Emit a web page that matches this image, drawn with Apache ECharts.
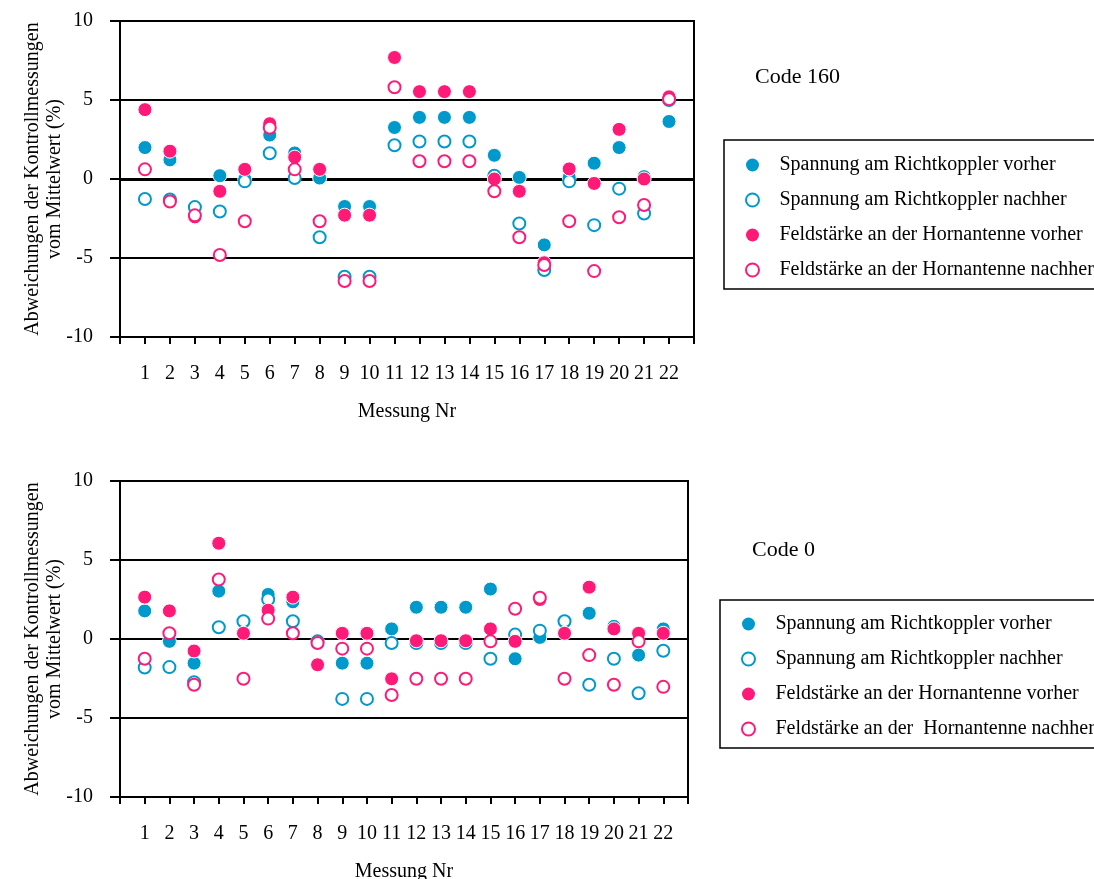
<!DOCTYPE html>
<html><head><meta charset="utf-8">
<script src="https://cdn.jsdelivr.net/npm/echarts@6/dist/echarts.min.js"></script>
<style>html,body{margin:0;padding:0;background:#fff;overflow:hidden}#c{width:1094px;height:879px}</style>
</head><body><div id="c"></div>
<script>
// ---- data ----
const measurementNr = [1,2,3,4,5,6,7,8,9,10,11,12,13,14,15,16,17,18,19,20,21,22];
const xTickLabels = ['1','2','3','4','5','6','7','8','9','10','11','12','13','14','15','16','17','18','19','20','21','22'];

// Code 160 (top chart)
const c160_spannungVorher  = [1.99, 1.21, -1.80, 0.21, 0.00, 2.78, 1.65, 0.06, -1.74, -1.74, 3.26, 3.90, 3.90, 3.90, 1.50, 0.10, -4.17, 0.10, 1.00, 1.99, 0.15, 3.64];
const c160_spannungNachher = [-1.27, -1.30, -1.78, -2.06, -0.15, 1.63, 0.06, -3.69, -6.19, -6.19, 2.14, 2.37, 2.37, 2.37, 0.21, -2.82, -5.76, -0.15, -2.92, -0.61, -2.18, 5.00];
const c160_feldVorher      = [4.39, 1.76, -2.40, -0.78, 0.61, 3.50, 1.38, 0.61, -2.29, -2.29, 7.69, 5.53, 5.53, 5.53, 0.00, -0.78, -5.30, 0.64, -0.28, 3.14, 0.00, 5.20];
const c160_feldNachher     = [0.61, -1.42, -2.30, -4.81, -2.67, 3.24, 0.61, -2.67, -6.46, -6.46, 5.81, 1.12, 1.12, 1.12, -0.78, -3.69, -5.44, -2.67, -5.83, -2.42, -1.65, 5.05];

// Code 0 (bottom chart)
const c0_spannungVorher  = [1.78, -0.15, -1.53, 3.03, 1.10, 2.82, 2.35, -0.20, -1.53, -1.53, 0.64, 2.01, 2.01, 2.01, 3.16, -1.25, 0.10, 1.10, 1.63, 0.80, -1.02, 0.64];
const c0_spannungNachher = [-1.80, -1.78, -2.73, 0.74, 1.12, 2.50, 1.12, -0.15, -3.79, -3.79, -0.25, -0.25, -0.25, -0.25, -1.25, 0.28, 0.53, 1.12, -2.90, -1.25, -3.43, -0.74];
const c0_feldVorher      = [2.65, 1.78, -0.76, 6.06, 0.36, 1.82, 2.65, -1.63, 0.36, 0.36, -2.52, -0.11, -0.11, -0.11, 0.64, -0.15, 2.50, 0.36, 3.28, 0.64, 0.36, 0.36];
const c0_feldNachher     = [-1.25, 0.36, -2.90, 3.77, -2.52, 1.29, 0.36, -0.25, -0.61, -0.61, -3.54, -2.52, -2.52, -2.52, -0.15, 1.91, 2.61, -2.52, -1.02, -2.90, -0.15, -3.03];

const namesTop = ['Spannung am Richtkoppler vorher','Spannung am Richtkoppler nachher','Feldstärke an der Hornantenne vorher','Feldstärke an der Hornantenne nachher'];
const namesBottom = ['Spannung am Richtkoppler vorher','Spannung am Richtkoppler nachher','Feldstärke an der Hornantenne vorher','Feldstärke an der  Hornantenne nachher'];
const chartTitles = ['Code 160','Code 0'];
const xAxisTitle = 'Messung Nr';
const yAxisTitle = 'Abweichungen der Kontrollmessungen\nvom Mittelwert (%)';

// ---- chart ----
const BLUE = '#0099cc', PINK = '#ff1a78', FONT = 'Liberation Serif';
const chart = echarts.init(document.getElementById('c'), null, {renderer:'canvas'});

const filledStyle = c => ({color:c, borderColor:'#fff', borderWidth:1, opacity:1});
const openStyle = c => ({color:'#fff', borderColor:c, borderWidth:2, opacity:1});
const seriesColors = [BLUE, BLUE, PINK, PINK];
const seriesFilled = [true, false, true, false];

function pts(vals){ return vals.map((v,i)=>[measurementNr[i], v]); }
function mk(name, vals, gi, k, extra){
  const filled = seriesFilled[k], color = seriesColors[k];
  const s = {
    type:'scatter', name, xAxisIndex:gi, yAxisIndex:gi, data: pts(vals), symbol:'circle',
    symbolSize: filled ? 14 : 12,
    itemStyle: filled ? filledStyle(color) : openStyle(color),
    emphasis:{disabled:true}, silent:true, animation:false
  };
  return Object.assign(s, extra||{});
}
const zeroLine = {markLine:{silent:true, z:1, symbol:['none','none'], label:{show:false},
  lineStyle:{color:'#000', width:3, type:'solid'}, data:[{yAxis:0}], animation:false}};

function xAx(gi){
  return {gridIndex:gi, type:'value', min:0, max:23, interval:1,
    axisLine:{show:true, onZero:false, lineStyle:{color:'#000', width:2}},
    axisTick:{show:true, inside:false, length:7, lineStyle:{color:'#000', width:2}},
    axisLabel:{margin:27, color:'#000', fontFamily:FONT, fontSize:20,
      formatter:v => (v>=1 && v<=xTickLabels.length && Number.isInteger(v)) ? xTickLabels[v-1] : ''},
    splitLine:{show:false},
    name:xAxisTitle, nameLocation:'middle', nameGap:65,
    nameTextStyle:{color:'#000', fontFamily:FONT, fontSize:20}};
}
function yAx(gi){
  return {gridIndex:gi, type:'value', min:-10, max:10, interval:5,
    axisLine:{show:true, lineStyle:{color:'#000', width:2}},
    axisTick:{show:true, inside:false, length:10, lineStyle:{color:'#000', width:2}},
    axisLabel:{margin:27, color:'#000', fontFamily:FONT, fontSize:20},
    splitLine:{show:true, lineStyle:{color:'#000', width:2}},
    name:yAxisTitle, nameLocation:'middle', nameRotate:90, nameGap:54, nameMoveOverlap:false,
    nameTextStyle:{color:'#000', fontFamily:FONT, fontSize:20, lineHeight:22, align:'center'}};
}
function legend(names, left, top, padTop){
  return {show:true, orient:'vertical', left, top,
    data: names.map((n,k)=>({name:n, icon:'circle',
      itemStyle: seriesFilled[k] ? {color:seriesColors[k], borderWidth:0}
                                 : {color:'#fff', borderColor:seriesColors[k], borderWidth:2}})),
    padding:[padTop, 60, 9, 21], itemWidth:44, itemHeight:13, itemGap:15,
    borderColor:'#000', borderWidth:1.5, selectedMode:false,
    textStyle:{color:'#000', fontFamily:FONT, fontSize:20}};
}

chart.setOption({
  backgroundColor:'#fff',
  animation:false,
  title:[
    {text:chartTitles[0], left:755, top:66, padding:0, textStyle:{color:'#000', fontFamily:FONT, fontSize:22, fontWeight:'normal'}},
    {text:chartTitles[1], left:752, top:539, padding:0, textStyle:{color:'#000', fontFamily:FONT, fontSize:22, fontWeight:'normal'}}
  ],
  grid:[
    {left:120, top:21, width:574, height:316, show:true, borderColor:'#000', borderWidth:2, backgroundColor:'transparent', outerBoundsMode:'none', containLabel:false},
    {left:120, top:481, width:568, height:316, show:true, borderColor:'#000', borderWidth:2, backgroundColor:'transparent', outerBoundsMode:'none', containLabel:false}
  ],
  xAxis:[xAx(0), xAx(1)],
  yAxis:[yAx(0), yAx(1)],
  legend:[legend(namesTop, 724, 140, 15), legend(namesBottom, 720, 600, 14)],
  series:[
    mk(namesTop[0], c160_spannungVorher, 0, 0, zeroLine),
    mk(namesTop[1], c160_spannungNachher, 0, 1),
    mk(namesTop[2], c160_feldVorher, 0, 2),
    mk(namesTop[3], c160_feldNachher, 0, 3),
    mk(namesBottom[0], c0_spannungVorher, 1, 0),
    mk(namesBottom[1], c0_spannungNachher, 1, 1),
    mk(namesBottom[2], c0_feldVorher, 1, 2),
    mk(namesBottom[3], c0_feldNachher, 1, 3)
  ]
});
</script></body></html>
